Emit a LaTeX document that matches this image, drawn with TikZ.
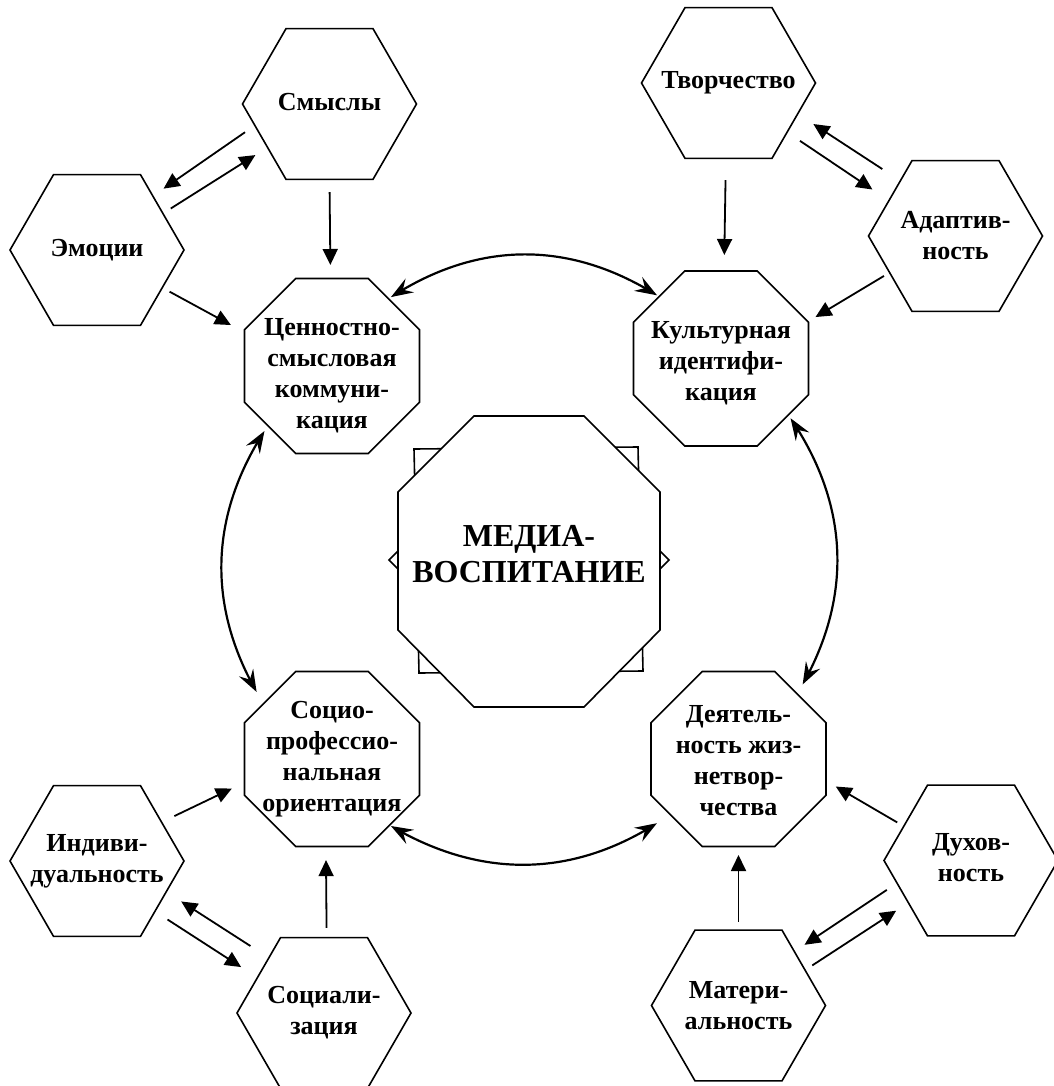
\documentclass[tikz,border=0pt]{standalone}
\usepackage{fontspec}
\setmainfont{Liberation Serif}
\usetikzlibrary{shapes.geometric,arrows.meta,bending}
\begin{document}
\begin{tikzpicture}[x=1pt,y=-1pt,
  hex/.style={draw, line width=1.6pt, regular polygon, regular polygon sides=6,
    minimum size=174pt, inner sep=0pt, outer sep=0pt},
  oct/.style={draw, line width=1.6pt, regular polygon, regular polygon sides=8,
    minimum size=189.4pt, inner sep=0pt, outer sep=0pt},
  lbl/.style={font=\bfseries\fontsize{26}{31}\selectfont, align=center, inner sep=0pt},
  arr/.style={-{Triangle[length=16pt,width=15pt]}, line width=1.8pt},
  dbl/.style={{Stealth[length=22pt,width=16pt,inset=8pt]}-{Stealth[length=22pt,width=16pt,inset=8pt]}, line width=2.2pt},
  deco/.style={draw, line width=1.6pt, fill=white}
]
\useasboundingbox (0,0) rectangle (1053,1086);

% central emblem
\path[deco] (389,560) -- (529,420) -- (669,560) -- (529,700) -- cycle;
\path[deco] (414,449) -- (638,447) -- (643,671) -- (419,673) -- cycle;
\path[deco] (474,416) -- (584,416) -- (660,492) -- (660,630) -- (584,707)
  -- (474,707) -- (398,630) -- (398,492) -- cycle;
\node[font=\bfseries\fontsize{32}{36}\selectfont, align=center, inner sep=0pt] (MV)
  at (529,554) {МЕДИА-\\ВОСПИТАНИЕ};

% octagons
\node[oct, label={[lbl, yshift=-10pt]center:{Ценностно-\\смысловая\\коммуни-\\кация}}] (C1) at (332,366) {};
\node[oct, label={[lbl, yshift=-5pt]center:{Культурная\\идентифи-\\кация}}] (C2) at (721,358.5) {};
\node[oct, label={[lbl]center:{Социо-\\профессио-\\нальная\\ориентация}}] (C3) at (332,759) {};
\node[oct, label={[lbl, yshift=-2pt]center:{Деятель-\\ность жиз-\\нетвор-\\чества}}] (C4) at (738.5,759) {};

% hexagons
\node[hex, label={[lbl, yshift=2pt]center:{Смыслы}}] (S) at (329.5,104) {};
\node[hex, label={[lbl]center:{Эмоции}}] (E) at (97,250) {};
\node[hex, label={[lbl]center:{Творчество}}] (T) at (728.5,83) {};
\node[hex, label={[lbl]center:{Адаптив-\\ность}}] (A) at (955.5,236) {};
\node[hex, label={[lbl]center:{Индиви-\\дуальность}}] (I) at (97,861) {};
\node[hex, label={[lbl]center:{Социали-\\зация}}] (Z) at (324,1013) {};
\node[hex, label={[lbl, yshift=3pt]center:{Духов-\\ность}}] (D) at (971,860.5) {};
\node[hex, label={[lbl]center:{Матери-\\альность}}] (M) at (738.5,1005.5) {};

% straight arrows
\draw[arr, shorten <=12pt, shorten >=13pt] (S.196.9) -- (E.44.1);
\draw[arr, shorten <=9.3pt, shorten >=14.4pt] (E.29) -- (S.215.3);
\draw[arr, shorten <=12.7pt, shorten >=13.5pt] (S.270) -- (C1.91);
\draw[arr, shorten <=8.4pt, shorten >=15.5pt] (E.330.7) -- (C1.159.1);

\draw[arr, shorten <=21.5pt, shorten >=18.7pt] (A.135.2) -- (T.336.3);
\draw[arr, shorten <=15.5pt, shorten >=19.9pt] (T.320.1) -- (A.152.5);
\draw[arr, shorten <=21.7pt, shorten >=16pt] (T.268) -- (C2.88);
\draw[arr, shorten <=6.6pt, shorten >=8.9pt] (A.209.2) -- (C2.23.8);

\draw[arr, shorten <=14.1pt, shorten >=14pt] (I.31.7) -- (C3.195.5);
\draw[arr, shorten <=21.9pt, shorten >=17.8pt] (Z.135.4) -- (I.336.7);
\draw[arr, shorten <=15pt, shorten >=19.4pt] (I.319.9) -- (Z.152.4);
\draw[arr, shorten <=9.7pt, shorten >=13.6pt] (Z.88.7) -- (C3.266.6);

\draw[arr, shorten <=7.6pt, shorten >=11.3pt] (D.153.1) -- (C4.346.3);
\draw[arr, shorten <=12.3pt, shorten >=12.2pt] (D.197.9) -- (M.44.1);
\draw[arr, shorten <=8.6pt, shorten >=14.6pt] (M.28.9) -- (D.214.8);
\draw[arr, shorten <=8.2pt, shorten >=8.5pt] (M.90) -- (C4.270);

% curved double arrows
\draw[dbl, shorten <=3pt, shorten >=2.5pt] (C1.50) to[bend left=33] (C2.135);
\draw[dbl, shorten <=4pt, shorten >=11pt] (C2.320) to[bend left=33] (C4.48);
\draw[dbl, shorten <=16pt, shorten >=1.6pt] (C4.219) to[bend left=33] (C3.311);
\draw[dbl, shorten <=13.7pt, shorten >=6.4pt] (C3.141) to[bend left=33] (C1.223);
\end{tikzpicture}
\end{document}
